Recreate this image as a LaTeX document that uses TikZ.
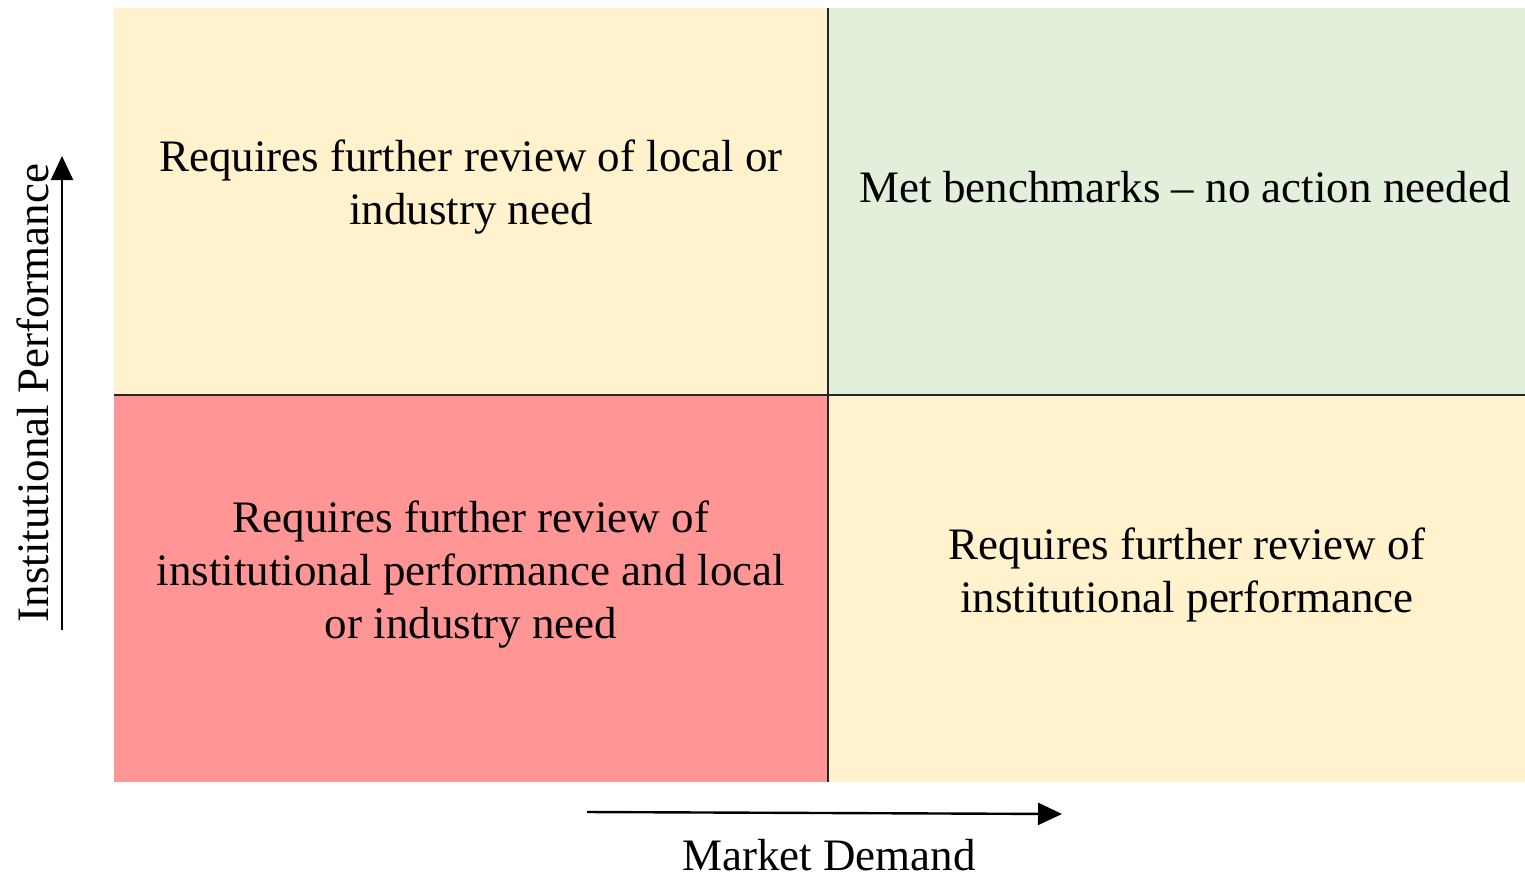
\documentclass[tikz,border=0pt]{standalone}
\usepackage{fontspec}
\setmainfont{Liberation Serif}
\usetikzlibrary{arrows.meta}
\definecolor{qyellow}{HTML}{FFF2CC}
\definecolor{qgreen}{HTML}{E2EFDA}
\definecolor{qred}{HTML}{FF9595}
\begin{document}
\begin{tikzpicture}[x=1pt,y=-1pt,
  qtext/.style={align=center,font=\fontsize{45}{53}\selectfont,inner sep=0pt},
  axis/.style={line width=2.4pt,-{Triangle[length=24pt,width=22pt]}},
  divider/.style={line width=1.3pt,draw=black!85}]
\useasboundingbox (0,0) rectangle (1525,879);
\fill[qyellow] (114,8) rectangle (828,395);
\fill[qgreen] (828,8) rectangle (1525,395);
\fill[qred] (114,395) rectangle (828,782);
\fill[qyellow] (828,395) rectangle (1525,782);
\coordinate (vt) at (828,8);
\coordinate (vb) at (828,782);
\coordinate (hl) at (114,395);
\coordinate (hr) at (1525,395);
\draw[divider] (vt) -- (vb);
\draw[divider] (hl) -- (hr);
\node[qtext] (tl) at (471,187) {Requires further review of local or\\industry need};
\node[qtext] (tr) at (1185,187) {Met benchmarks -- no action needed};
\node[qtext] (bl) at (471,575) {Requires further review of\\institutional performance and local\\or industry need};
\node[qtext] (br) at (1187,575) {Requires further review of\\institutional performance};
\coordinate (ya) at (62,630);
\coordinate (yb) at (62,156);
\draw[axis] (ya) -- (yb);
\coordinate (xa) at (587,812);
\coordinate (xb) at (1062,814);
\draw[axis] (xa) -- (xb);
\node[qtext,rotate=90] (ylab) at (33,393) {Institutional Performance};
\node[qtext] (xlab) at (829,855) {Market Demand};
\end{tikzpicture}
\end{document}
